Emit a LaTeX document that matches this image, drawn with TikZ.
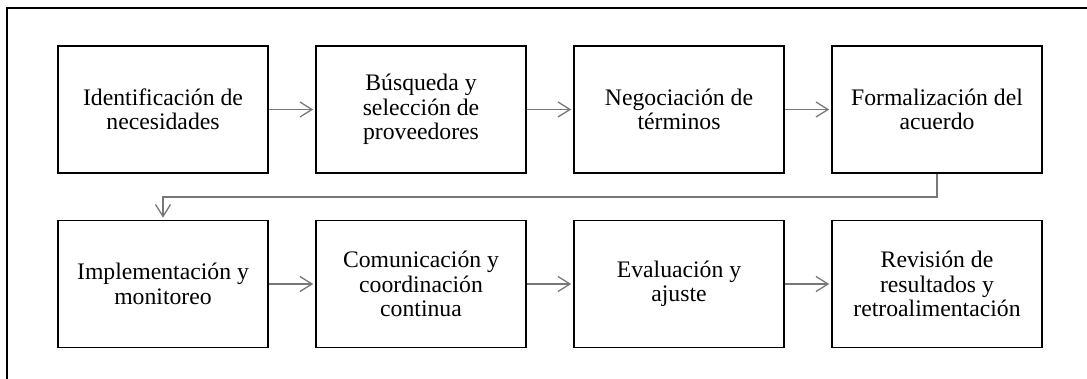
\documentclass[tikz,border=0pt]{standalone}
\usepackage{fontspec}
\setmainfont{Liberation Serif}
\usetikzlibrary{arrows.meta}
\definecolor{arrowgray}{RGB}{120,120,120}
\tikzset{
  stepbox/.style={draw=black, line width=1.6pt, minimum width=210pt, minimum height=127pt,
    align=center, inner sep=0pt, font=\fontsize{23.7}{24.4}\selectfont},
  conn/.style={draw=arrowgray, line width=1.3pt, shorten >=2pt,
    -{Straight Barb[length=12pt,width=15pt,line width=1.3pt]}},
  frameline/.style={draw=black, line width=1.8pt}
}
\begin{document}
\begin{tikzpicture}[x=1pt,y=-1pt]
\useasboundingbox (0,0) rectangle (1087,379);
\draw[frameline] (7,400) -- (7,8) -- (1100,8);
\node[stepbox] (b1) at (163,109.5) {Identificación de\\necesidades};
\node[stepbox] (b2) at (421,109.5) {Búsqueda y\\selección de\\proveedores};
\node[stepbox] (b3) at (679,109.5) {Negociación de\\términos};
\node[stepbox] (b4) at (937,109.5) {Formalización del\\acuerdo};
\node[stepbox] (b5) at (163,284) {Implementación y\\monitoreo};
\node[stepbox] (b6) at (421,284) {Comunicación y\\coordinación\\continua};
\node[stepbox] (b7) at (679,284) {Evaluación y\\ajuste};
\node[stepbox] (b8) at (937,284) {Revisión de\\resultados y\\retroalimentación};
\coordinate (m1) at (937,197);
\coordinate (m2) at (163,197);
\draw[conn] (b1) -- (b2);
\draw[conn] (b2) -- (b3);
\draw[conn] (b3) -- (b4);
\draw[conn] (b4.south) -- (m1) -- (m2) -- (b5.north);
\draw[conn] (b5) -- (b6);
\draw[conn] (b6) -- (b7);
\draw[conn] (b7) -- (b8);
\end{tikzpicture}
\end{document}
